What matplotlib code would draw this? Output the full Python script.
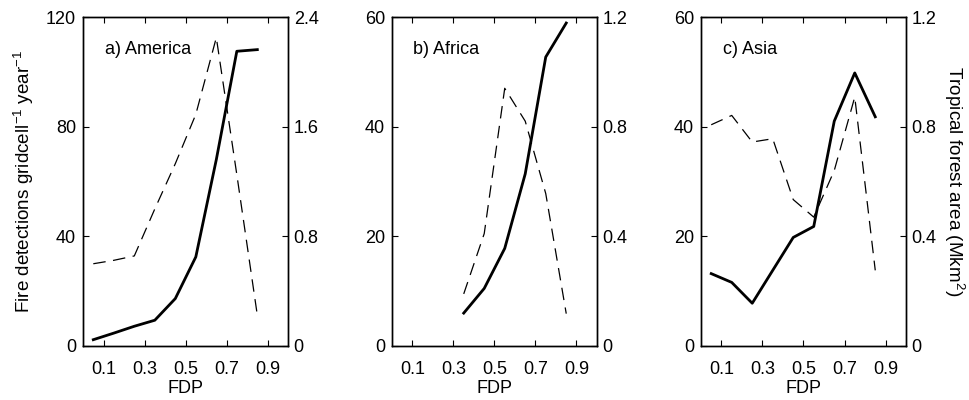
import numpy as np
import matplotlib.pyplot as plt

plt.rcParams['font.family'] = ['Liberation Sans', 'DejaVu Sans']
plt.rcParams['mathtext.fontset'] = 'custom'
plt.rcParams['mathtext.rm'] = 'Liberation Sans'
plt.rcParams['mathtext.it'] = 'Liberation Sans:italic'
plt.rcParams['mathtext.bf'] = 'Liberation Sans:bold'

# FDP bin centres
fdp = [0.05, 0.15, 0.25, 0.35, 0.45, 0.55, 0.65, 0.75, 0.85]

# fire detections (solid, left axis)
fire_america = [2.3, 4.7, 7.2, 9.4, 17.3, 32.5, 68.0, 107.5, 108.1]
fire_africa = [None, None, None, 6.0, 10.5, 17.8, 31.4, 52.7, 58.9]
fire_asia = [13.2, 11.6, 7.8, 13.8, 19.8, 21.8, 41.0, 49.8, 41.8]

# tropical forest area (dashed, right axis)
forest_america = [0.60, 0.625, 0.657, 1.00, 1.33, 1.69, 2.25, 1.25, 0.224]
forest_africa = [None, None, None, 0.19, 0.41, 0.94, 0.82, 0.556, 0.118]
forest_asia = [0.807, 0.841, 0.744, 0.756, 0.534, 0.47, 0.64, 0.908, 0.276]

titles = ['a) America', 'b) Africa', 'c) Asia']
fire = [fire_america, fire_africa, fire_asia]
forest = [forest_america, forest_africa, forest_asia]
left_max = [120, 60, 60]
right_max = [2.4, 1.2, 1.2]
left_ticks = [[0, 40, 80, 120], [0, 20, 40, 60], [0, 20, 40, 60]]
right_ticks = [[0, 0.8, 1.6, 2.4], [0, 0.4, 0.8, 1.2], [0, 0.4, 0.8, 1.2]]
xticks = [0.1, 0.3, 0.5, 0.7, 0.9]

fs = 13
fig = plt.figure(figsize=(9.69, 4.0), dpi=100)
lefts = [0.0857, 0.4045, 0.7234]

for i in range(3):
    ax = fig.add_axes([lefts[i], 0.135, 0.2116, 0.8225])
    x = np.array(fdp, dtype=float)
    yf = np.array([np.nan if v is None else v for v in fire[i]], dtype=float)
    yt = np.array([np.nan if v is None else v for v in forest[i]], dtype=float)

    ax.plot(x, yf, color='black', lw=2.0)
    ax.set_xlim(0, 1)
    ax.set_ylim(0, left_max[i])
    ax.set_xticks(xticks)
    ax.set_xticklabels(['0.1', '0.3', '0.5', '0.7', '0.9'])
    ax.set_yticks(left_ticks[i])
    ax.set_yticklabels([str(t) for t in left_ticks[i]])
    ax.tick_params(direction='in', length=4, width=0.8, top=True, labelsize=fs)
    ax.tick_params(axis='x', pad=11)
    ax.tick_params(axis='y', pad=5)
    ax.set_xlabel('FDP', fontsize=fs, labelpad=1)
    ax.text(0.105, 0.90, titles[i], transform=ax.transAxes, fontsize=fs, va='center', ha='left')
    for s in ax.spines.values():
        s.set_linewidth(1.0)

    ax2 = ax.twinx()
    ln, = ax2.plot(x, yt, color='black', lw=0.9)
    ln.set_dashes((10, 6))
    ax2.set_ylim(0, right_max[i])
    ax2.set_yticks(right_ticks[i])
    ax2.set_yticklabels(['0' if t == 0 else f'{t:g}' for t in right_ticks[i]])
    ax2.tick_params(direction='in', length=4, width=0.8, labelsize=fs, pad=4)
    for s in ax2.spines.values():
        s.set_linewidth(1.0)

    if i == 0:
        ax.set_ylabel(r'Fire detections gridcell$^{-1}$ year$^{-1}$', fontsize=13.6, labelpad=7)
    if i == 2:
        ax2.set_ylabel(r'Tropical forest area (Mkm$^2$)', fontsize=13.6, rotation=270, labelpad=21)

fig.savefig('out.png', dpi=100)
